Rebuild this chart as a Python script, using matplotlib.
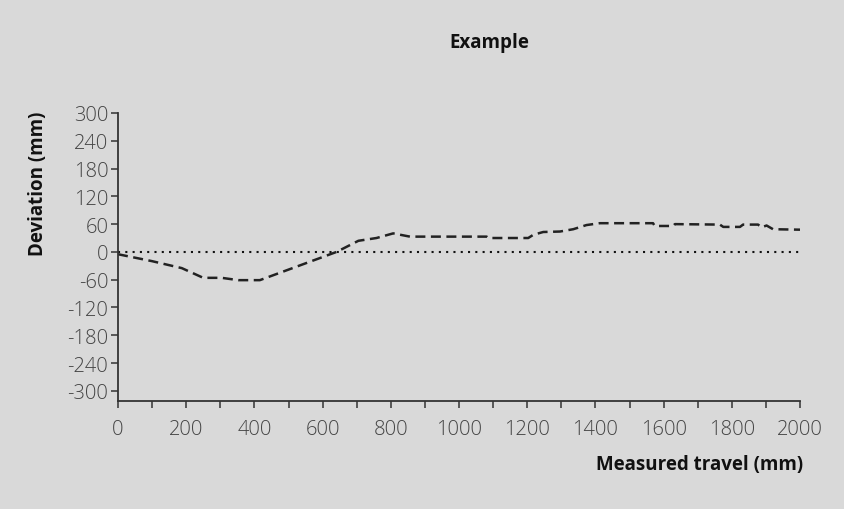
import matplotlib.pyplot as plt

# Deviation profile (mm)
travel = [0, 100, 187, 250, 304, 353, 416, 641, 705, 758, 807, 856, 1081,
          1086, 1203, 1218, 1247, 1296, 1335, 1374, 1413, 1569, 1574, 1628,
          1633, 1765, 1775, 1824, 1833, 1877, 1887, 1902, 1921, 2000]
deviation = [-5, -20, -35, -56, -56, -61, -61, 0, 24, 30, 40, 33, 33,
             30, 30, 37, 43, 44, 49, 58, 62, 62, 56, 56,
             60, 59, 54, 54, 59, 59, 53, 57, 49, 48]

x_ticks = list(range(0, 2001, 200))
y_ticks = list(range(-300, 301, 60))

bg = '#d9d9d9'
ink = '#333333'
plt.rcParams['font.family'] = ['Open Sans', 'DejaVu Sans']

fig = plt.figure(figsize=(8.44, 5.10), dpi=100, facecolor=bg)
ax = fig.add_axes([118 / 844, 1 - 402 / 510, 682 / 844, 288 / 510])
ax.set_facecolor(bg)

ax.plot(travel, deviation, color='#222222', lw=1.8, linestyle=(0, (4, 2.2)))
ax.plot([0, 2000], [0, 0], color='#111111', lw=1.5, linestyle=(0, (1, 2.5)))

ax.set_xlim(0, 2000)
ax.set_ylim(-322, 300)
ax.set_xticks(x_ticks)
ax.set_xticks(range(0, 2001, 100), minor=True)
ax.set_yticks(y_ticks)
ax.set_yticklabels([str(v) for v in y_ticks])

for s in ['top', 'right']:
    ax.spines[s].set_visible(False)
for s in ['left', 'bottom']:
    ax.spines[s].set_color(ink)
    ax.spines[s].set_linewidth(1.3)

ax.tick_params(axis='both', which='both', direction='out', length=5,
               width=1.1, color=ink, labelsize=14.5, labelcolor='#444444')
ax.tick_params(axis='x', pad=8)
ax.tick_params(axis='y', pad=2)
for lbl in ax.get_xticklabels() + ax.get_yticklabels():
    lbl.set_fontweight(300)

fig.text(489 / 844, 1 - 43 / 510, 'Example', ha='center', va='center',
         fontsize=13.5, fontweight='bold', color='#111111')
fig.text(803 / 844, 1 - 465 / 510, 'Measured travel (mm)', ha='right', va='center',
         fontsize=13.5, fontweight='bold', color='#111111')
fig.text(38 / 844, 1 - 184 / 510, 'Deviation (mm)', ha='center', va='center',
         rotation=90, fontsize=13.5, fontweight='bold', color='#111111')

fig.savefig('out.png', dpi=100, facecolor=bg)
